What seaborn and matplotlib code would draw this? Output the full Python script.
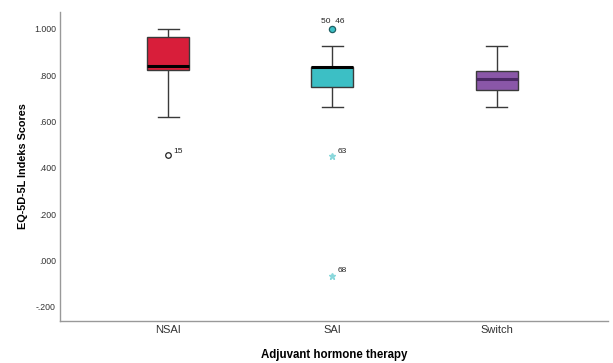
import matplotlib
matplotlib.use('Agg')
import pandas as pd
import numpy as np
import matplotlib.pyplot as plt
import seaborn as sns

# data
groups = ['NSAI', 'SAI', 'Switch']
nsai_scores = [0.456, 0.62, 0.823, 0.83, 0.84, 0.90, 0.965, 0.98, 1.0]
sai_scores = [-0.067, 0.45, 0.663, 0.75, 0.78, 0.81, 0.835, 0.835, 0.836, 0.836, 0.926, 1.0, 1.0]
switch_scores = [0.663, 0.70, 0.737, 0.76, 0.784, 0.80, 0.818, 0.88, 0.926]
box_colors = ['#D81E3A', '#3CBFC5', '#8A57A8']
median_colors = ['#000000', '#000000', '#4A2863']

# outliers: group, value, case label, kind
out_group = ['NSAI', 'SAI', 'SAI', 'SAI']
out_value = [0.456, 1.0, 0.45, -0.067]
out_label = ['15', '50  46', '63', '68']
out_kind = ['open', 'filled', 'star', 'star']

yticks = [1.0, 0.8, 0.6, 0.4, 0.2, 0.0, -0.2]
ytick_labels = ['1.000', '.800', '.600', '.400', '.200', '.000', '-.200']

df = pd.DataFrame({
    'therapy': ['NSAI'] * len(nsai_scores) + ['SAI'] * len(sai_scores) + ['Switch'] * len(switch_scores),
    'score': nsai_scores + sai_scores + switch_scores,
})

plt.rcParams['font.family'] = ['Liberation Sans', 'DejaVu Sans']
fig = plt.figure(figsize=(6.13, 3.63), dpi=100)
ax = fig.add_axes([0.098, 0.116, 0.894, 0.851])

sns.boxplot(data=df, x='therapy', y='score', hue='therapy', order=groups,
            palette=dict(zip(groups, box_colors)), legend=False, width=0.256,
            showfliers=False, linecolor='#3a3a3a', linewidth=1.0,
            saturation=1, ax=ax)

# medians drawn again in SPSS style
meds = [np.median(s) for s in (nsai_scores, sai_scores, switch_scores)]
for i, (m, c) in enumerate(zip(meds, median_colors)):
    ax.plot([i - 0.128, i + 0.128], [m, m], color=c, lw=2.2, solid_capstyle='butt', zorder=5)

for g, v, lab, kind in zip(out_group, out_value, out_label, out_kind):
    x = groups.index(g)
    if kind == 'open':
        ax.plot(x, v, 'o', mfc='white', mec='#222222', ms=4, mew=0.9, zorder=6)
        ax.text(x + 0.03, v + 0.008, lab, fontsize=6, color='#222222')
    elif kind == 'filled':
        ax.plot(x, v, 'o', mfc='#3CBFC5', mec='#1f5f63', ms=4.5, mew=0.9, zorder=6)
        ax.text(x, v + 0.025, lab, fontsize=6, color='#222222', ha='center')
    else:
        ax.plot(x, v, '*', color='#8ad8dc', ms=5, zorder=6)
        ax.text(x + 0.03, v + 0.015, lab, fontsize=6, color='#222222')

ax.set_xlim(-0.66, 2.68)
ax.set_ylim(-0.261, 1.073)
ax.set_yticks(yticks)
ax.set_yticklabels(ytick_labels, fontsize=6.3, color='#333333')
ax.tick_params(axis='y', length=0, pad=3)
ax.tick_params(axis='x', length=0, labelsize=8, labelcolor='#333333', pad=3)
ax.set_xlabel('Adjuvant hormone therapy', fontsize=8.3, fontweight='bold', labelpad=10)
ax.set_ylabel('EQ-5D-5L Indeks Scores', fontsize=7.8, fontweight='bold', labelpad=4)
for s in ['top', 'right']:
    ax.spines[s].set_visible(False)
for s in ['left', 'bottom']:
    ax.spines[s].set_color('#999999')
    ax.spines[s].set_linewidth(1.0)

fig.savefig('out.png', dpi=100)
